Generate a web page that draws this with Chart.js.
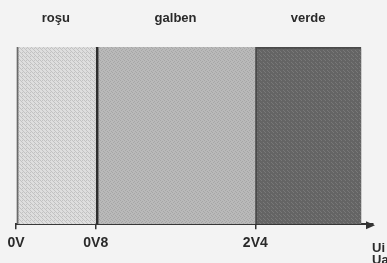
<!DOCTYPE html>
<html>
<head>
<meta charset="utf-8">
<script src="https://cdn.jsdelivr.net/npm/chart.js@4.4.1/dist/chart.umd.min.js"></script>
<style>
  html, body { margin: 0; padding: 0; background: #f3f3f3; }
  #wrap { width: 387px; height: 263px; position: relative; }
</style>
</head>
<body>
<div id="wrap"><canvas id="chart"></canvas></div>
<script>
// zones of the input voltage
const zoneNames = ['roşu', 'galben', 'verde'];
const zoneStart = [0, 0.8, 2.4];
const zoneEnd = [0.8, 2.4, 3.46];

// bottom axis ticks
const tickValues = [0, 0.8, 2.4];
const tickLabels = ['0V', '0V8', '2V4'];
const axisName = ['Ui', 'Ua'];

const xMax = 3.58;

// small tile textures to look like the scanned print
function makePattern(base, dot, cells) {
    const c = document.createElement('canvas');
    c.width = 4; c.height = 4;
    const g = c.getContext('2d');
    g.fillStyle = base;
    g.fillRect(0, 0, 4, 4);
    g.fillStyle = dot;
    cells.forEach(p => g.fillRect(p[0], p[1], 1, 1));
    return g.createPattern(c, 'repeat');
}
const ctx = document.getElementById('chart').getContext('2d');
const fills = [
    makePattern('#dedede', '#c2c2c2', [[0, 0], [2, 0], [1, 1], [3, 3], [2, 2]]),
    makePattern('#b9b9b9', '#a6a6a6', [[0, 0], [2, 1], [1, 2], [3, 3]]),
    makePattern('#646464', '#787878', [[1, 0], [3, 2], [0, 3]])
];
const borders = [
    { left: 2, right: 0, top: 0, bottom: 0 },
    { left: 3, right: 0, top: 0, bottom: 0 },
    { left: 2, right: 0, top: 2, bottom: 0 }
];
const borderColors = ['#6a6a6a', '#2e2e2e', '#4a4a4a'];

const font = '"Liberation Sans", Arial, sans-serif';

// arrow at end of the x axis + the Ui / Ua name
const arrowPlugin = {
    id: 'arrow',
    afterDraw(chart) {
        const x = chart.scales.x;
        const g = chart.ctx;
        const y = x.top + 1;
        const tip = x.right;
        g.save();
        g.fillStyle = '#333';
        g.beginPath();
        g.moveTo(tip + 2, y);
        g.lineTo(tip - 7, y - 4);
        g.lineTo(tip - 7, y + 4);
        g.closePath();
        g.fill();
        g.font = 'bold 13px ' + font;
        g.fillStyle = '#2a2a2a';
        g.textAlign = 'left';
        g.textBaseline = 'middle';
        g.fillText(axisName[0], tip - 1, y + 23);
        g.fillText(axisName[1], tip - 1, y + 35);
        g.restore();
    }
};

new Chart(ctx, {
    type: 'bar',
    data: {
        labels: [''],
        datasets: zoneNames.map((name, i) => ({
            label: name,
            data: [[zoneStart[i], zoneEnd[i]]],
            backgroundColor: fills[i],
            borderColor: borderColors[i],
            borderWidth: borders[i],
            borderSkipped: false,
            grouped: false,
            barPercentage: 1,
            categoryPercentage: 1
        }))
    },
    options: {
        indexAxis: 'y',
        responsive: true,
        maintainAspectRatio: false,
        animation: false,
        layout: { padding: { left: 16, right: 14, top: 0, bottom: 5 } },
        plugins: { legend: { display: false }, tooltip: { enabled: false } },
        scales: {
            y: { display: false },
            x: {
                type: 'linear',
                min: 0,
                max: xMax,
                afterBuildTicks: axis => { axis.ticks = tickValues.map(v => ({ value: v })); },
                border: { display: true, color: '#333', width: 2 },
                grid: { drawOnChartArea: false, drawTicks: true, tickLength: 5, color: '#333', lineWidth: 1.5 },
                ticks: {
                    color: '#2a2a2a',
                    padding: 6,
                    maxRotation: 0,
                    autoSkip: false,
                    font: { family: font, size: 14, weight: 'bold' },
                    callback: (v, i) => tickLabels[i]
                }
            },
            x2: {
                type: 'linear',
                position: 'top',
                min: 0,
                max: xMax,
                afterBuildTicks: axis => {
                    axis.ticks = zoneNames.map((n, i) => ({ value: (zoneStart[i] + zoneEnd[i]) / 2 }));
                },
                afterFit: axis => { axis.height = 47; },
                border: { display: false },
                grid: { display: false, drawTicks: false },
                ticks: {
                    color: '#2a2a2a',
                    padding: 21,
                    maxRotation: 0,
                    autoSkip: false,
                    font: { family: font, size: 13, weight: 'bold' },
                    callback: (v, i) => zoneNames[i]
                }
            }
        }
    },
    plugins: [arrowPlugin]
});
</script>
</body>
</html>
